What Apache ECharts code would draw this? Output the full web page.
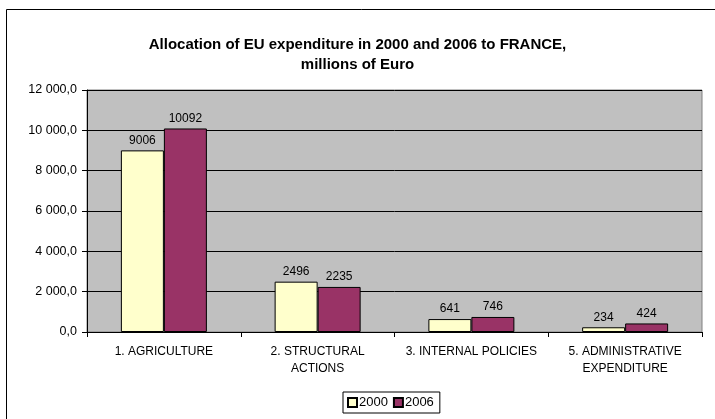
<!DOCTYPE html>
<html><head><meta charset="utf-8">
<script src="https://cdn.jsdelivr.net/npm/echarts@6/dist/echarts.min.js"></script>
<style>html,body{margin:0;padding:0;background:#fff}#c{width:715px;height:419px}</style>
</head><body><div id="c"></div>
<script>
const categories = ['1. AGRICULTURE', '2. STRUCTURAL\nACTIONS', '3. INTERNAL POLICIES', '5. ADMINISTRATIVE\nEXPENDITURE'];
const values2000 = [9006, 2496, 641, 234];
const values2006 = [10092, 2235, 746, 424];
const seriesNames = ['2000', '2006'];

const chart = echarts.init(document.getElementById('c'), null, {renderer: 'canvas'});
const font = 'Liberation Sans, Arial, sans-serif';
function fmt(v){
  const s = Math.round(v).toString().replace(/\B(?=(\d{3})+(?!\d))/g, ' ');
  return s + ',0';
}
chart.setOption({
  animation: false,
  textStyle: {fontFamily: font},
  graphic: [
    {type: 'rect', shape: {x: 6.5, y: 9.5, width: 760, height: 450}, style: {fill: 'none', stroke: '#000', lineWidth: 1}, z: -10},
    {type: 'rect', shape: {x: 87, y: 90, width: 615, height: 242}, style: {fill: '#C0C0C0', stroke: '#808080', lineWidth: 1}, z: -5}
  ],
  title: {
    text: 'Allocation of EU expenditure in 2000 and 2006 to FRANCE,\nmillions of Euro',
    left: 'center', top: 30,
    textStyle: {fontFamily: font, fontSize: 15, fontWeight: 'bold', color: '#000', lineHeight: 20}
  },
  legend: {
    data: seriesNames,
    bottom: 6, left: 343,
    itemWidth: 9, itemHeight: 9, itemGap: 5,
    borderColor: '#000', borderWidth: 1, padding: [4, 6, 4, 4],
    textStyle: {fontFamily: font, fontSize: 13, color: '#000', padding: [0, 0, 0, -3]},
    icon: 'rect'
  },
  grid: {left: 87, right: 13, top: 90, bottom: 87, containLabel: false},
  xAxis: {
    type: 'category', data: categories,
    axisLine: {lineStyle: {color: '#000'}},
    axisTick: {show: true, alignWithLabel: false, length: 5, lineStyle: {color: '#000'}},
    axisLabel: {fontFamily: font, fontSize: 12, color: '#000', margin: 11, lineHeight: 17, interval: 0}
  },
  yAxis: {
    type: 'value', min: 0, max: 12000, interval: 2000,
    axisLine: {show: true, lineStyle: {color: '#000'}},
    axisTick: {show: true, length: 5, lineStyle: {color: '#000'}},
    splitLine: {lineStyle: {color: '#000', width: 1}},
    axisLabel: {fontFamily: font, fontSize: 12.5, color: '#000', margin: 10, formatter: fmt}
  },
  series: [
    {name: seriesNames[0], type: 'bar', data: values2000, barWidth: 43, barGap: '0%',
     itemStyle: {color: '#FFFFCC', borderColor: '#000', borderWidth: 1},
     label: {show: true, position: 'top', distance: 4, fontFamily: font, fontSize: 12, color: '#000'}},
    {name: seriesNames[1], type: 'bar', data: values2006, barWidth: 43,
     itemStyle: {color: '#993366', borderColor: '#000', borderWidth: 1},
     label: {show: true, position: 'top', distance: 4, fontFamily: font, fontSize: 12, color: '#000'}}
  ]
});
</script></body></html>
